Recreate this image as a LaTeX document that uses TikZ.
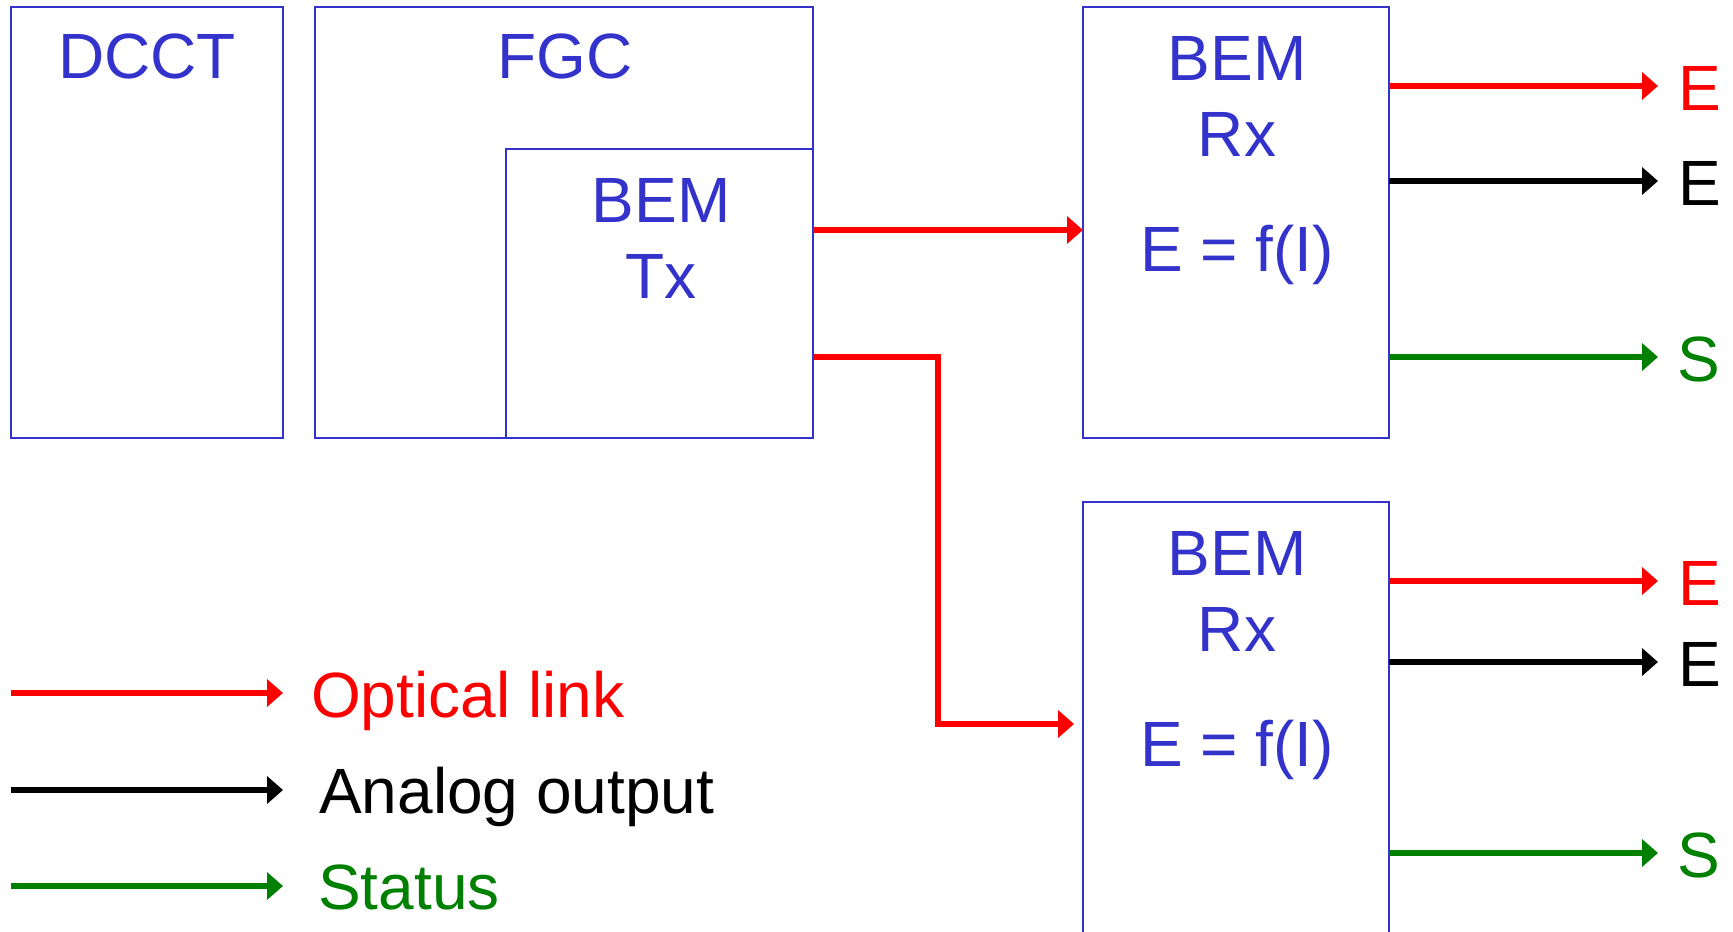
\documentclass[tikz,border=0pt]{standalone}
\usepackage{fontspec}
\setmainfont{Liberation Sans}
\usetikzlibrary{arrows.meta}
\definecolor{boxblue}{RGB}{51,51,204}
\definecolor{sgreen}{RGB}{0,128,0}
\definecolor{sred}{RGB}{255,0,0}
\begin{document}
\begin{tikzpicture}[x=1pt,y=-1pt,
  box/.style={draw=boxblue, line width=2.2pt, outer sep=0pt, inner sep=0pt, anchor=north west},
  lbl/.style={text=boxblue, font=\fontsize{64}{76}\selectfont, inner sep=0pt, anchor=base},
  leg/.style={font=\fontsize{64}{76}\selectfont, inner sep=0pt, anchor=base west},
  link/.style={line width=5.5pt, -{Triangle[length=16pt,width=27pt]}},
]
\useasboundingbox (0,0) rectangle (1733,932);
\clip (0,0) rectangle (1733,932);
% boxes
\node[box, minimum width=272pt, minimum height=431pt] (dcct) at (11,7) {};
\node[box, minimum width=498pt, minimum height=431pt] (fgc) at (315,7) {};
\node[box, minimum width=307pt, minimum height=289pt] (tx) at (506,149) {};
\node[box, minimum width=306pt, minimum height=431pt] (rx1) at (1083,7) {};
\node[box, minimum width=306pt, minimum height=470pt] (rx2) at (1083,502) {};
% box texts
\node[lbl] (dccttxt) at (147,78) {DCCT};
\node[lbl] (fgctxt) at (565,78) {FGC};
\node[lbl] (txbem) at (661,222) {BEM};
\node[lbl] (txtx) at (661,298) {Tx};
\node[lbl] (rxabem) at (1237,80) {BEM};
\node[lbl] (rxarx) at (1237,156) {Rx};
\node[lbl] (rxaf) at (1237,271) {E = f(I)};
\node[lbl] (rxbbem) at (1237,575) {BEM};
\node[lbl] (rxbrx) at (1237,651) {Rx};
\node[lbl] (rxbf) at (1237,766) {E = f(I)};
% optical links
\coordinate (l1) at (0,230);
\draw[link, sred] (tx.east |- l1) -- (rx1.west |- l1);
\coordinate (bend) at (938,357);
\coordinate (rx2in) at (1074,724);
\draw[link, sred] (tx.east |- bend) -- (bend) -- (bend |- rx2in) -- (rx2in);
% outputs top
\coordinate (oa1) at (1658,86);
\coordinate (oa2) at (1658,181);
\coordinate (oa3) at (1658,357);
\draw[link, sred] (rx1.east |- oa1) -- (oa1);
\draw[link, black] (rx1.east |- oa2) -- (oa2);
\draw[link, sgreen] (rx1.east |- oa3) -- (oa3);
\node[leg, text=sred] (ea1) at (1678,110) {E};
\node[leg, text=black] (ea2) at (1678,205) {E};
\node[leg, text=sgreen] (ea3) at (1677,381) {S};
% outputs bottom
\coordinate (ob1) at (1658,581);
\coordinate (ob2) at (1658,662);
\coordinate (ob3) at (1658,853);
\draw[link, sred] (rx2.east |- ob1) -- (ob1);
\draw[link, black] (rx2.east |- ob2) -- (ob2);
\draw[link, sgreen] (rx2.east |- ob3) -- (ob3);
\node[leg, text=sred] (eb1) at (1678,605) {E};
\node[leg, text=black] (eb2) at (1678,686) {E};
\node[leg, text=sgreen] (eb3) at (1677,877) {S};
% legend
\coordinate (g1s) at (11,693);
\coordinate (g1e) at (283,693);
\coordinate (g2s) at (11,790);
\coordinate (g2e) at (283,790);
\coordinate (g3s) at (11,886);
\coordinate (g3e) at (283,886);
\draw[link, sred] (g1s) -- (g1e);
\draw[link, black] (g2s) -- (g2e);
\draw[link, sgreen] (g3s) -- (g3e);
\node[leg, text=sred] (optical) at (311,717) {Optical link};
\node[leg, text=black] (analog) at (319,813) {Analog output};
\node[leg, text=sgreen] (status) at (318,909) {Status};
\end{tikzpicture}
\end{document}
